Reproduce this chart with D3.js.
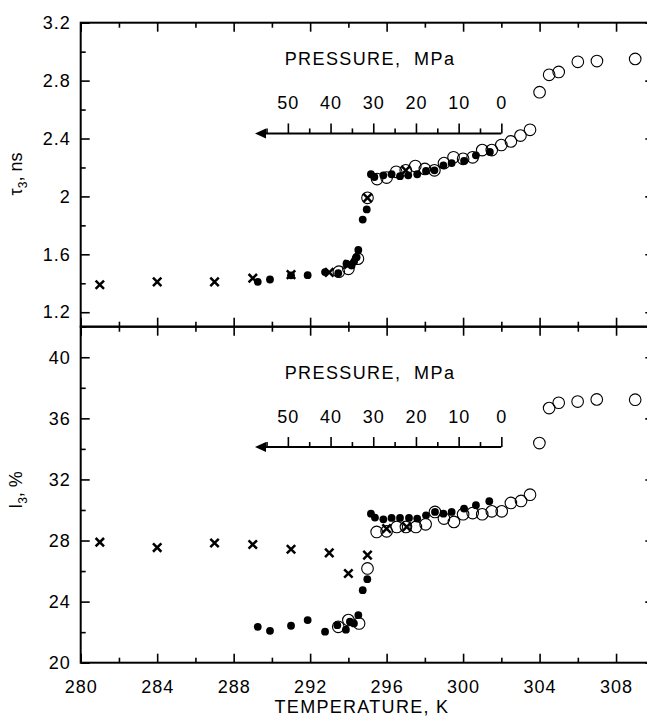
<!DOCTYPE html>
<html>
<head>
<meta charset="utf-8">
<script src="https://cdn.jsdelivr.net/npm/d3@7"></script>
<style>
  body { margin: 0; background: #fff; }
  svg text { font-family: "Liberation Sans", Arial, sans-serif; fill: #000; }
</style>
</head>
<body>
<script>
// ---- data ----
// top panel: tau3, ns
let tauOpenT  = [293.5, 294.0, 294.5, 295.0, 295.5, 296.0, 296.5, 297.0, 297.5, 298.0, 298.5, 299.0, 299.5, 300.0, 300.5, 301.0, 301.5, 302.0, 302.5, 303.0, 303.5, 304.0, 304.5, 305.0, 306.0, 307.0, 309.0];
let tauOpen   = [1.48, 1.50, 1.57, 1.99, 2.12, 2.13, 2.17, 2.18, 2.21, 2.19, 2.18, 2.23, 2.27, 2.26, 2.27, 2.32, 2.32, 2.355, 2.38, 2.42, 2.46, 2.72, 2.84, 2.86, 2.93, 2.935, 2.95];
let tauFullT  = [289.26, 289.9, 291.0, 291.87, 292.78, 293.47, 293.9, 294.17, 294.3, 294.43, 294.52, 294.75, 294.96, 295.18, 295.36, 295.83, 296.26, 296.7, 297.13, 297.6, 298.06, 298.5, 298.97, 299.4, 300.05, 300.67, 301.4];
let tauFull   = [1.41, 1.426, 1.455, 1.456, 1.477, 1.47, 1.535, 1.523, 1.55, 1.58, 1.63, 1.84, 1.91, 2.153, 2.134, 2.146, 2.153, 2.14, 2.146, 2.153, 2.176, 2.18, 2.215, 2.23, 2.245, 2.284, 2.307];
let tauCrossT = [281, 284, 287, 289, 291, 293, 294, 295, 297];
let tauCross  = [1.39, 1.41, 1.41, 1.435, 1.46, 1.475, 1.53, 1.99, 2.18];

// bottom panel: I3, %
let intOpenT  = [293.47, 294.0, 294.56, 295.0, 295.48, 296.0, 296.53, 297.01, 297.53, 298.04, 298.53, 299.0, 299.52, 300.0, 300.5, 301.0, 301.5, 302.02, 302.5, 303.03, 303.5, 303.99, 304.5, 305.0, 305.99, 306.99, 309.0];
let intOpen   = [22.35, 22.79, 22.57, 26.17, 28.56, 28.6, 28.89, 28.89, 28.89, 29.06, 29.87, 29.44, 29.22, 29.72, 29.8, 29.72, 29.91, 29.91, 30.46, 30.59, 31.0, 34.38, 36.67, 37.02, 37.1, 37.24, 37.22];
let intFullT  = [289.26, 289.9, 291.0, 291.87, 292.78, 293.42, 293.87, 294.08, 294.29, 294.52, 294.75, 294.99, 295.18, 295.39, 295.83, 296.26, 296.7, 297.17, 297.6, 298.06, 298.53, 298.97, 299.4, 300.05, 300.67, 301.37];
let intFull   = [22.35, 22.09, 22.42, 22.79, 22.03, 22.46, 22.16, 22.68, 22.57, 23.12, 24.75, 25.47, 29.76, 29.5, 29.39, 29.48, 29.48, 29.48, 29.44, 29.65, 29.87, 29.76, 29.87, 30.09, 30.31, 30.57];
let intCrossT = [281, 284, 287, 289, 291, 293, 294, 295, 296, 297.05];
let intCross  = [27.89, 27.54, 27.84, 27.74, 27.43, 27.19, 25.84, 27.04, 28.78, 28.89];

// axis ticks
let tempMajor = [280, 284, 288, 292, 296, 300, 304, 308];
let tempMinor = [282, 286, 290, 294, 298, 302, 306, 310];
let tauMajor  = [1.2, 1.6, 2.0, 2.4, 2.8, 3.2];
let tauMinor  = [1.4, 1.8, 2.2, 2.6, 3.0];
let intMajor  = [20, 24, 28, 32, 36, 40];
let intMinor  = [22, 26, 30, 34, 38, 42];
let pressMajor = [0, 10, 20, 30, 40, 50];
let pressMinor = [5, 15, 25, 35, 45, 55];

let canvas = d3.select("body")
            .append("svg")
            .attr("width", 647)
            .attr("height", 718);

let x = d3.scaleLinear().domain([280, 310]).range([80.7, 654.3]);
let yTau = d3.scaleLinear().domain([1.1, 3.2]).range([326.7, 22.7]);
let yInt = d3.scaleLinear().domain([20, 42]).range([662.7, 326.7]);

// pressure scale sits on the temperature axis: 0 MPa at 302 K, 10 MPa per 2.233 K
let pressure = d3.scaleLinear().domain([0, 10]).range([x(302), x(302 - 2.233)]);

let zip = (a, b) => a.map((v, i) => [v, b[i]]);

drawPanel = (y, major, minor, fmt, openT, open, fullT, full, crossT, cross, pressY) => {
    let g = canvas.append("g");
    let [y0, y1] = y.range();
    let [xa, xb] = x.range();

    // inward ticks on all four sides
    let tick = (axis, vals, size, tr) => {
        g.append("g").attr("transform", tr)
            .call(axis.tickValues(vals).tickSizeInner(-size).tickSizeOuter(0).tickFormat(""))
            .call(s => s.select(".domain").remove())
            .call(s => s.selectAll("line").attr("stroke-width", 1.6));
    };
    tick(d3.axisBottom(x), tempMajor, 9, `translate(0,${y0})`);
    tick(d3.axisBottom(x), tempMinor, 5, `translate(0,${y0})`);
    tick(d3.axisTop(x), tempMajor, 9, `translate(0,${y1})`);
    tick(d3.axisTop(x), tempMinor, 5, `translate(0,${y1})`);
    tick(d3.axisLeft(y), major, 9, `translate(${xa},0)`);
    tick(d3.axisLeft(y), minor, 5, `translate(${xa},0)`);
    tick(d3.axisRight(y), major, 9, `translate(${xb},0)`);
    tick(d3.axisRight(y), minor, 5, `translate(${xb},0)`);

    // y tick labels
    g.append("g").attr("transform", `translate(${xa},0)`)
        .call(d3.axisLeft(y).tickValues(major).tickSize(0).tickPadding(10).tickFormat(fmt))
        .call(s => s.select(".domain").remove())
        .call(s => s.selectAll("text").attr("font-size", 18).attr("letter-spacing", 1)
            .attr("font-family", "Liberation Sans, Arial, sans-serif"));

    g.append("rect")
        .attr("x", xa).attr("y", y1)
        .attr("width", xb - xa).attr("height", y0 - y1)
        .attr("fill", "none").attr("stroke", "#000").attr("stroke-width", 2);

    // inset pressure axis with arrow
    let pg = g.append("g").attr("transform", `translate(0,${pressY})`);
    let tip = pressure(57.7);
    pg.append("line")
        .attr("x1", pressure(0)).attr("x2", tip + 8)
        .attr("stroke", "#000").attr("stroke-width", 2);
    pg.append("path")
        .attr("d", `M${tip},0L${tip + 11},-5L${tip + 11},5Z`)
        .attr("fill", "#000");
    pg.append("g")
        .call(d3.axisTop(pressure).tickValues(pressMajor).tickSizeInner(10).tickSizeOuter(0).tickPadding(14))
        .call(s => s.select(".domain").remove())
        .call(s => s.selectAll("line").attr("stroke-width", 1.6))
        .call(s => s.selectAll("text").attr("font-size", 18).attr("letter-spacing", 1)
            .attr("font-family", "Liberation Sans, Arial, sans-serif"));
    pg.append("g")
        .call(d3.axisTop(pressure).tickValues(pressMinor).tickSizeInner(5).tickSizeOuter(0).tickFormat(""))
        .call(s => s.select(".domain").remove())
        .call(s => s.selectAll("line").attr("stroke-width", 1.6));
    pg.append("text")
        .attr("x", 370).attr("y", -68)
        .attr("text-anchor", "middle")
        .attr("font-size", 18)
        .attr("letter-spacing", 1.4)
        .attr("xml:space", "preserve")
        .text("PRESSURE,  MPa");

    // points: open circles, then filled, then crosses
    g.append("g").selectAll("circle").data(zip(openT, open)).join("circle")
        .attr("cx", d => x(d[0])).attr("cy", d => y(d[1])).attr("r", 5.8)
        .attr("fill", "none").attr("stroke", "#000").attr("stroke-width", 1.1);
    g.append("g").selectAll("circle").data(zip(fullT, full)).join("circle")
        .attr("cx", d => x(d[0])).attr("cy", d => y(d[1])).attr("r", 3.9)
        .attr("fill", "#000");
    let c = 4.2;
    g.append("g").selectAll("path").data(zip(crossT, cross)).join("path")
        .attr("d", d => {
            let px = x(d[0]), py = y(d[1]);
            return `M${px - c},${py - c}L${px + c},${py + c}M${px - c},${py + c}L${px + c},${py - c}`;
        })
        .attr("stroke", "#000").attr("stroke-width", 2.5).attr("fill", "none");
};

drawPanel(yTau, tauMajor, tauMinor, d => String(+d.toFixed(1)),
    tauOpenT, tauOpen, tauFullT, tauFull, tauCrossT, tauCross, yTau(2.435));
drawPanel(yInt, intMajor, intMinor, d => String(d),
    intOpenT, intOpen, intFullT, intFull, intCrossT, intCross, yInt(34.12));

// x tick labels
canvas.append("g").attr("transform", `translate(0,${yInt.range()[0]})`)
    .call(d3.axisBottom(x).tickValues(tempMajor).tickSize(0).tickPadding(18))
    .call(s => s.select(".domain").remove())
    .call(s => s.selectAll("text").attr("font-size", 18).attr("letter-spacing", 1)
        .attr("font-family", "Liberation Sans, Arial, sans-serif"));

canvas.append("text")
    .attr("x", 362).attr("y", 713)
    .attr("text-anchor", "middle")
    .attr("font-size", 18)
    .attr("letter-spacing", 1.3)
    .text("TEMPERATURE, K");

// y titles
let yTitle = (cy, main, rest) => {
    let t = canvas.append("text")
        .attr("transform", `translate(22,${cy}) rotate(-90)`)
        .attr("text-anchor", "middle")
        .attr("font-size", 18);
    t.append("tspan").text(main);
    t.append("tspan").attr("font-size", 12).attr("dy", 5).text("3");
    t.append("tspan").attr("dy", -5).text(rest);
};
yTitle(174, "\u03c4", ", ns");
yTitle(490, "I", ", %");
</script>
</body>
</html>
